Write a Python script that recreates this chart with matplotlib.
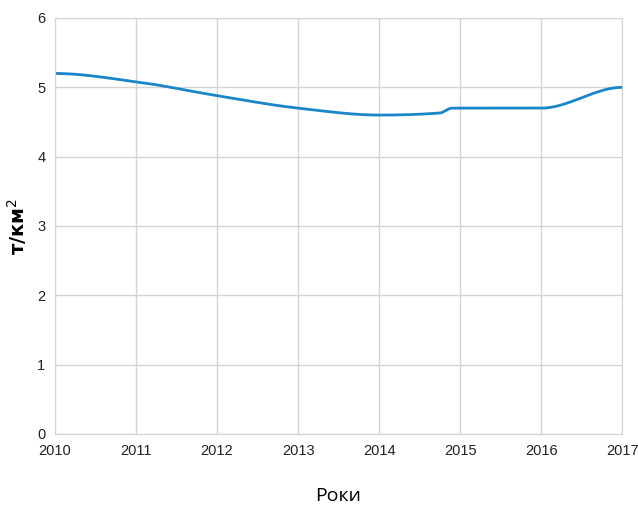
import matplotlib.pyplot as plt
import numpy as np

# values
years = [2010, 2011, 2012, 2013, 2014, 2014.75, 2014.9, 2015, 2016, 2017]
density = [5.2, 5.08, 4.88, 4.7, 4.6, 4.63, 4.7, 4.7, 4.7, 5.0]
x_ticks = [2010, 2011, 2012, 2013, 2014, 2015, 2016, 2017]
y_ticks = [0, 1, 2, 3, 4, 5, 6]


def pchip(x, y, xs):
    # monotone cubic (Fritsch-Carlson), flat at both ends
    x = np.asarray(x, float)
    y = np.asarray(y, float)
    h = np.diff(x)
    d = np.diff(y) / h
    m = np.zeros_like(y)
    for k in range(1, len(x) - 1):
        if d[k - 1] * d[k] > 0:
            w1 = 2 * h[k] + h[k - 1]
            w2 = h[k] + 2 * h[k - 1]
            m[k] = (w1 + w2) / (w1 / d[k - 1] + w2 / d[k])
    idx = np.clip(np.searchsorted(x, xs) - 1, 0, len(x) - 2)
    t = (xs - x[idx]) / h[idx]
    h00 = 2 * t**3 - 3 * t**2 + 1
    h10 = t**3 - 2 * t**2 + t
    h01 = -2 * t**3 + 3 * t**2
    h11 = t**3 - t**2
    return h00 * y[idx] + h10 * h[idx] * m[idx] + h01 * y[idx + 1] + h11 * h[idx] * m[idx + 1]


xs = np.linspace(years[0], years[-1], 800)
ys = pchip(years, density, xs)

fig = plt.figure(figsize=(6.38, 5.07), dpi=100)
ax = fig.add_axes([0.0862, 0.144, 0.889, 0.8205])

ax.plot(xs, ys, color='#1a86c8', linewidth=2, solid_capstyle='round')

ax.set_xlim(2010, 2017)
ax.set_ylim(0, 6)
ax.set_xticks(x_ticks)
ax.set_yticks(y_ticks)
ax.grid(True, color='#d4d4d4', linewidth=1)
ax.set_axisbelow(True)
for s in ax.spines.values():
    s.set_color('#d4d4d4')
ax.tick_params(length=0, labelsize=10.5, colors='#222222', pad=7)
for lab in ax.get_xticklabels() + ax.get_yticklabels():
    lab.set_family('Liberation Sans')

ax.set_ylabel('т/км$^2$', fontsize=14, fontweight='bold', family='DejaVu Sans', labelpad=6)
ax.set_xlabel('Роки', fontsize=14, family='Open Sans', labelpad=21)

fig.savefig('out.png', dpi=100)
